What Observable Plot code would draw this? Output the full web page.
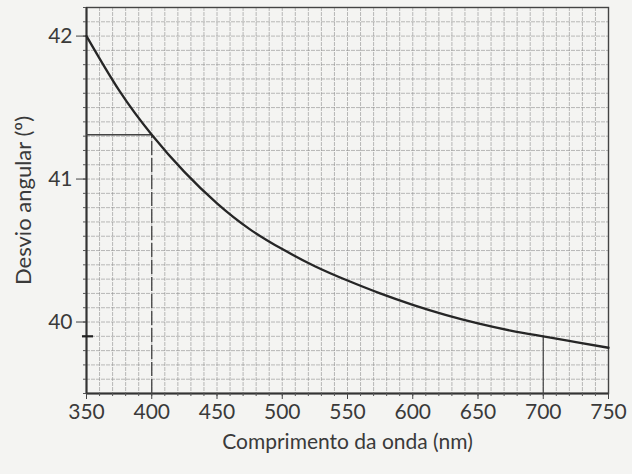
<!DOCTYPE html>
<html><head><meta charset="utf-8">
<script src="https://cdn.jsdelivr.net/npm/d3@7"></script>
<script src="https://cdn.jsdelivr.net/npm/@observablehq/plot@0.6"></script>
<style>html,body{margin:0;padding:0;background:#f4f4f2;} svg{display:block}</style>
</head><body><div id="chart"></div>
<script>
const wavelengths = [350,375,400,425,450,475,500,525,550,575,600,625,650,675,700,725,750];
const deviation   = [42.00,41.62,41.31,41.05,40.83,40.65,40.51,40.39,40.29,40.20,40.12,40.05,39.99,39.94,39.90,39.86,39.82];
const xTicks = [350,400,450,500,550,600,650,700,750];
const yTicks = [40,41,42];
const xLabel = "Comprimento da onda (nm)";
const yLabel = "Desvio angular (º)";
const readX = [400, 700];
const readY = [41.31, 39.90];

const data = wavelengths.map((w, i) => ({w, d: deviation[i]}));
const gridXs = d3.range(350, 751, 10);
const gridYs = d3.range(0, 28).map(i => +(39.5 + i * 0.1).toFixed(1));

const plot = Plot.plot({
  width: 632, height: 474,
  marginLeft: 86, marginRight: 24, marginTop: 7, marginBottom: 81,
  style: {background: "transparent", fontFamily: "Lato, 'Open Sans', sans-serif", fontSize: "21px", color: "#3a3a3a"},
  x: {domain: [350, 750], label: null},
  y: {domain: [39.5, 42.2], label: null},
  marks: [
    Plot.gridX(gridXs, {stroke: "#909090", strokeOpacity: 0.6, strokeWidth: 1, strokeDasharray: "4,1"}),
    Plot.gridY(gridYs, {stroke: "#909090", strokeOpacity: 0.6, strokeWidth: 1, strokeDasharray: "4,1"}),
    Plot.frame({stroke: "#444", strokeWidth: 1.4}),
    Plot.ruleX([350], {stroke: "#333", strokeWidth: 2}),
    Plot.ruleY([39.5], {stroke: "#333", strokeWidth: 2}),
    Plot.axisX(gridXs, {tickSize: 3, text: null, stroke: "#555", label: null}),
    Plot.axisY(gridYs, {tickSize: 3, text: null, stroke: "#555", label: null}),
    Plot.axisX(xTicks, {tickSize: 6, tickPadding: 5, stroke: "#444", label: null, fill: "#3a3a3a", fontSize: 21}),
    Plot.axisY(yTicks, {tickSize: 10, tickPadding: 4, stroke: "#444", label: null, fill: "#3a3a3a", fontSize: 21, tickFormat: "d"}),
    Plot.ruleY([readY[0]], {x1: 350, x2: readX[0], stroke: "#444", strokeWidth: 1.3}),
    Plot.ruleX([readX[0]], {y1: 39.5, y2: readY[0], stroke: "#444", strokeWidth: 1.3, strokeDasharray: "14,3"}),
    Plot.ruleX([readX[1]], {y1: 39.5, y2: readY[1], stroke: "#444", strokeWidth: 1.2}),
    Plot.ruleY([readY[1]], {x1: 346.9, x2: 355.4, stroke: "#222", strokeWidth: 2.2}),
    Plot.line(data, {x: "w", y: "d", curve: "natural", stroke: "#262626", strokeWidth: 2.3}),
    Plot.text([xLabel], {frameAnchor: "bottom", dy: 49, lineAnchor: "middle", textAnchor: "middle", fontSize: 21, fill: "#3a3a3a"}),
    Plot.text([yLabel], {frameAnchor: "left", dx: -63, rotate: -90, lineAnchor: "middle", textAnchor: "middle", fontSize: 22, fill: "#3a3a3a"})
  ]
});
document.getElementById("chart").appendChild(plot);
</script>
</body></html>
